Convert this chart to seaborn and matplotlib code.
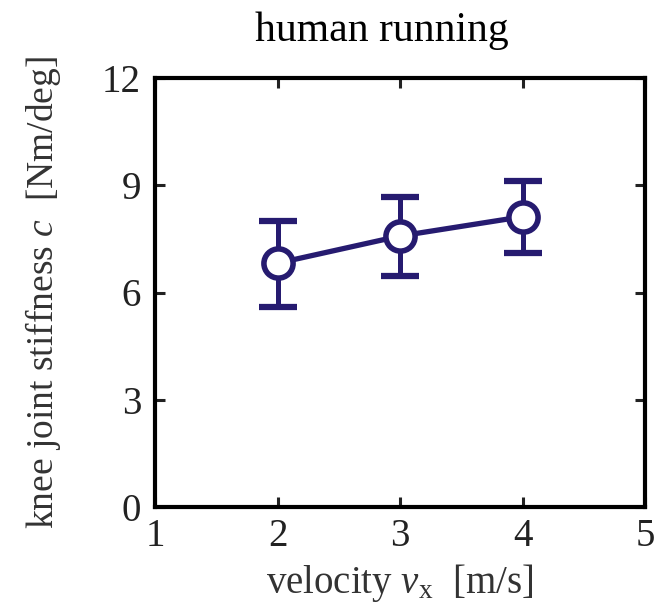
import matplotlib
matplotlib.use("Agg")
import matplotlib.pyplot as plt
import seaborn as sns
import pandas as pd

# data
velocity = [2, 3, 4]
stiffness = [6.82, 7.58, 8.12]
err_low = [5.59, 6.47, 7.10]
err_high = [8.01, 8.66, 9.13]

x_ticks = [1, 2, 3, 4, 5]
y_ticks = [0, 3, 6, 9, 12]

navy = "#261b70"

sns.set_theme(style="ticks")
plt.rcParams['font.family'] = ['Liberation Serif', 'DejaVu Serif']
plt.rcParams['mathtext.fontset'] = 'custom'
plt.rcParams['mathtext.rm'] = 'Liberation Serif'
plt.rcParams['mathtext.it'] = 'Liberation Serif:italic'

df = pd.DataFrame({"v": velocity, "c": stiffness, "lo": err_low, "hi": err_high})

fig = plt.figure(figsize=(6.55, 6.08), dpi=100)
# axes box: x 155-645 px, y 78-507 px
ax = fig.add_axes([155 / 655, 1 - 507 / 608, 490 / 655, 429 / 608])

yerr = [df["c"] - df["lo"], df["hi"] - df["c"]]
ax.errorbar(df["v"], df["c"], yerr=yerr, fmt="none", ecolor=navy,
            elinewidth=3.6, capsize=14, capthick=4.5, zorder=2)
sns.lineplot(data=df, x="v", y="c", ax=ax, color=navy, linewidth=3.8,
             marker="o", markersize=21, markerfacecolor="white",
             markeredgecolor=navy, markeredgewidth=4, zorder=3)

ax.set_xlim(1, 5)
ax.set_ylim(0, 12)
ax.set_xticks(x_ticks)
ax.set_yticks(y_ticks)
ax.tick_params(direction="in", length=7, width=2.2, top=True, right=True,
               labelsize=28, colors="#222222")
ax.tick_params(axis="x", pad=8)
ax.tick_params(axis="y", pad=10)
for s in ax.spines.values():
    s.set_linewidth(3)
    s.set_color("black")

ax.set_xlabel(r"velocity $v_{\rm x}$  [m/s]", fontsize=28, color="#333333", labelpad=5)
ax.set_ylabel(r"knee joint stiffness $c$  [Nm/deg]", fontsize=27, color="#333333", labelpad=28)
ax.set_title("human running", fontsize=30, color="black", pad=27, x=0.463)

fig.savefig("out.png", dpi=100)
